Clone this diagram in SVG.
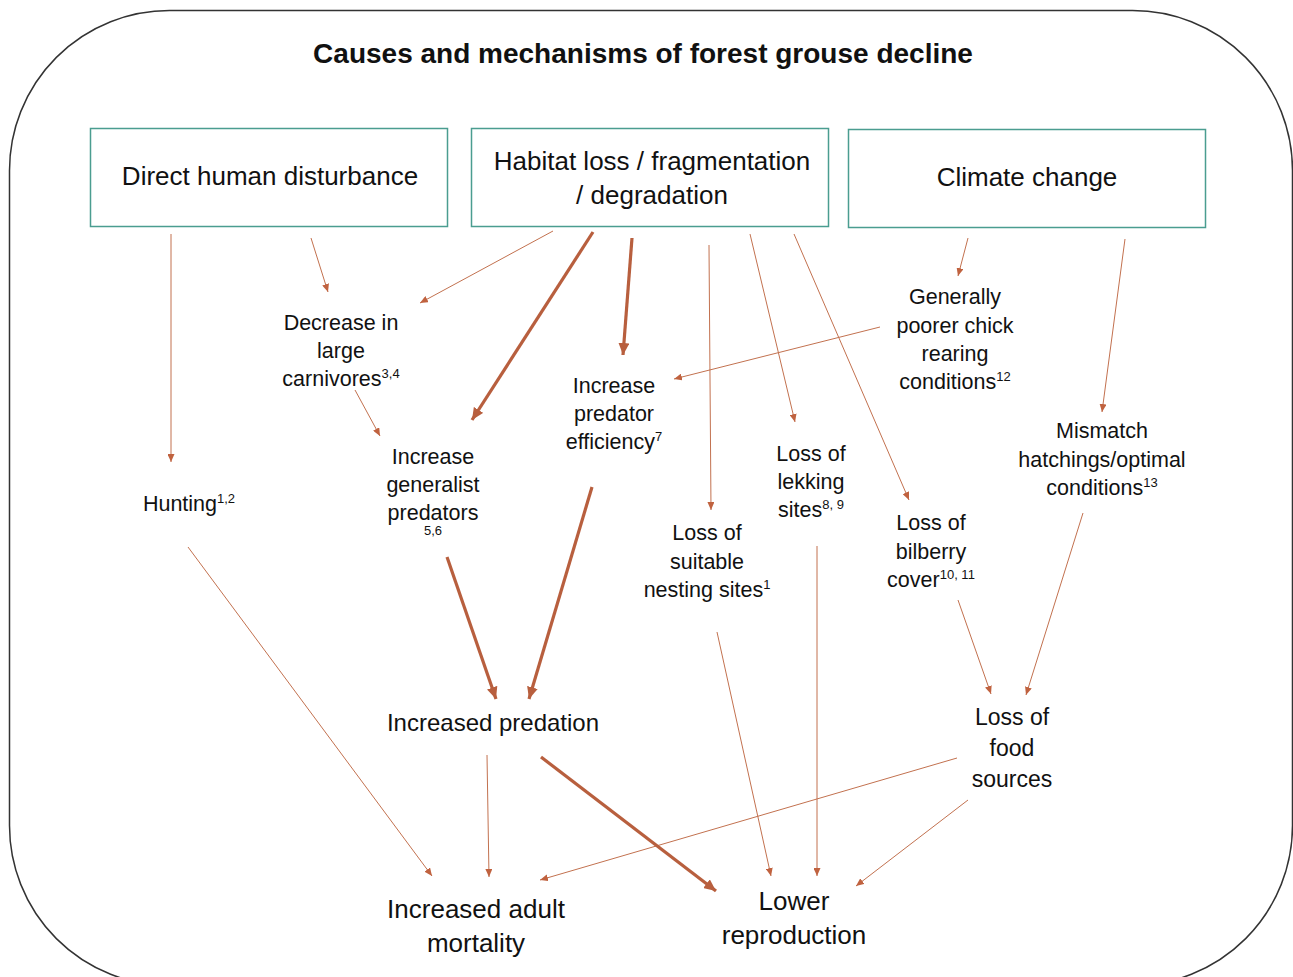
<svg xmlns="http://www.w3.org/2000/svg" width="1293" height="977" viewBox="0 0 1293 977">
<defs>
<style>
text{font-family:"Liberation Sans",Arial,sans-serif;fill:#111;text-anchor:middle}
.title{font-size:28px;font-weight:bold}
.box{fill:#fff;stroke:#4a9d90;stroke-width:1.5}
.bl{font-size:26px}
.nl{font-size:21.5px}
.big{font-size:26px}
.sup{font-size:13px}
.thin{stroke:#c2714f;stroke-width:1;fill:none;marker-end:url(#ah)}
.thick{stroke:#b85f3e;stroke-width:3.2;fill:none;marker-end:url(#ahb)}
</style>
<marker id="ah" markerUnits="userSpaceOnUse" markerWidth="8" markerHeight="7" refX="8" refY="3.5" orient="auto"><path d="M0,0 L8,3.5 L0,7 z" fill="#c0623f"/></marker>
<marker id="ahb" markerUnits="userSpaceOnUse" markerWidth="12" markerHeight="11" refX="12" refY="5.5" orient="auto"><path d="M0,0 L12,5.5 L0,11 z" fill="#b85f3e"/></marker>
</defs>
<rect x="0" y="0" width="1293" height="977" fill="#fff"/>
<rect id="frame" x="9.5" y="10.5" width="1283" height="975" rx="160" ry="160" fill="none" stroke="#333" stroke-width="1.5"/>
<text class="title" x="643" y="63">Causes and mechanisms of forest grouse decline</text>

<g id="connectors">
<line class="thin" x1="171" y1="234" x2="171" y2="462"/>
<line class="thin" x1="311" y1="238" x2="328" y2="292"/>
<line class="thin" x1="553" y1="231" x2="420" y2="303"/>
<line class="thin" x1="355" y1="390" x2="380" y2="436"/>
<line class="thin" x1="709" y1="245" x2="711" y2="510"/>
<line class="thin" x1="750" y1="234" x2="795" y2="422"/>
<line class="thin" x1="794" y1="234" x2="909" y2="500"/>
<line class="thin" x1="968" y1="238" x2="958" y2="276"/>
<line class="thin" x1="1125" y1="239" x2="1102" y2="412"/>
<line class="thin" x1="880" y1="327" x2="674" y2="379"/>
<line class="thin" x1="958" y1="600" x2="991" y2="694"/>
<line class="thin" x1="1083" y1="513" x2="1026" y2="695"/>
<line class="thin" x1="188" y1="547" x2="432" y2="876"/>
<line class="thin" x1="487" y1="755" x2="489" y2="877"/>
<line class="thin" x1="957" y1="758" x2="540" y2="880"/>
<line class="thin" x1="968" y1="800" x2="856" y2="886"/>
<line class="thin" x1="717" y1="632" x2="771" y2="876"/>
<line class="thin" x1="817" y1="546" x2="817" y2="876"/>
<line class="thick" x1="593" y1="232" x2="472" y2="420"/>
<line class="thick" x1="632" y1="238" x2="623" y2="355"/>
<line class="thick" x1="447" y1="557" x2="496" y2="699"/>
<line class="thick" x1="592" y1="487" x2="529" y2="699"/>
<line class="thick" x1="541" y1="757" x2="716" y2="891"/>
</g>

<g id="direct-human">
<rect class="box" x="90.5" y="128.5" width="357" height="98"/>
<text class="bl" x="270" y="185">Direct human disturbance</text>
</g>
<g id="habitat-loss">
<rect class="box" x="471.5" y="128.5" width="357" height="98"/>
<text class="bl" x="652" y="170">Habitat loss / fragmentation</text>
<text class="bl" x="652" y="204">/ degradation</text>
</g>
<g id="climate-change">
<rect class="box" x="848.5" y="129.5" width="357" height="98"/>
<text class="bl" x="1027" y="186">Climate change</text>
</g>

<g id="decrease-carnivores">
<text class="nl" x="341" y="330">Decrease in</text>
<text class="nl" x="341" y="358">large</text>
<text class="nl" x="341" y="386">carnivores<tspan class="sup" dy="-8">3,4</tspan></text>
</g>
<g id="hunting">
<text class="nl" x="189" y="511">Hunting<tspan class="sup" dy="-8">1,2</tspan></text>
</g>
<g id="generalist-predators">
<text class="nl" x="433" y="464">Increase</text>
<text class="nl" x="433" y="492">generalist</text>
<text class="nl" x="433" y="520">predators</text>
<text class="sup" x="433" y="535">5,6</text>
</g>
<g id="predator-efficiency">
<text class="nl" x="614" y="393">Increase</text>
<text class="nl" x="614" y="421">predator</text>
<text class="nl" x="614" y="449">efficiency<tspan class="sup" dy="-8">7</tspan></text>
</g>
<g id="chick-rearing">
<text class="nl" x="955" y="304">Generally</text>
<text class="nl" x="955" y="333">poorer chick</text>
<text class="nl" x="955" y="361">rearing</text>
<text class="nl" x="955" y="389">conditions<tspan class="sup" dy="-8">12</tspan></text>
</g>
<g id="lekking-sites">
<text class="nl" x="811" y="461">Loss of</text>
<text class="nl" x="811" y="489">lekking</text>
<text class="nl" x="811" y="517">sites<tspan class="sup" dy="-8">8, 9</tspan></text>
</g>
<g id="nesting-sites">
<text class="nl" x="707" y="540">Loss of</text>
<text class="nl" x="707" y="569">suitable</text>
<text class="nl" x="707" y="597">nesting sites<tspan class="sup" dy="-8">1</tspan></text>
</g>
<g id="bilberry-cover">
<text class="nl" x="931" y="530">Loss of</text>
<text class="nl" x="931" y="559">bilberry</text>
<text class="nl" x="931" y="587">cover<tspan class="sup" dy="-8">10, 11</tspan></text>
</g>
<g id="mismatch">
<text class="nl" x="1102" y="438">Mismatch</text>
<text class="nl" x="1102" y="467">hatchings/optimal</text>
<text class="nl" x="1102" y="495">conditions<tspan class="sup" dy="-8">13</tspan></text>
</g>
<g id="food-sources">
<text style="font-size:23px" x="1012" y="725">Loss of</text>
<text style="font-size:23px" x="1012" y="756">food</text>
<text style="font-size:23px" x="1012" y="787">sources</text>
</g>
<g id="increased-predation">
<text style="font-size:24px" x="493" y="731">Increased predation</text>
</g>
<g id="adult-mortality">
<text class="big" x="476" y="918">Increased adult</text>
<text class="big" x="476" y="952">mortality</text>
</g>
<g id="lower-reproduction">
<text class="big" x="794" y="910">Lower</text>
<text class="big" x="794" y="944">reproduction</text>
</g>
</svg>
